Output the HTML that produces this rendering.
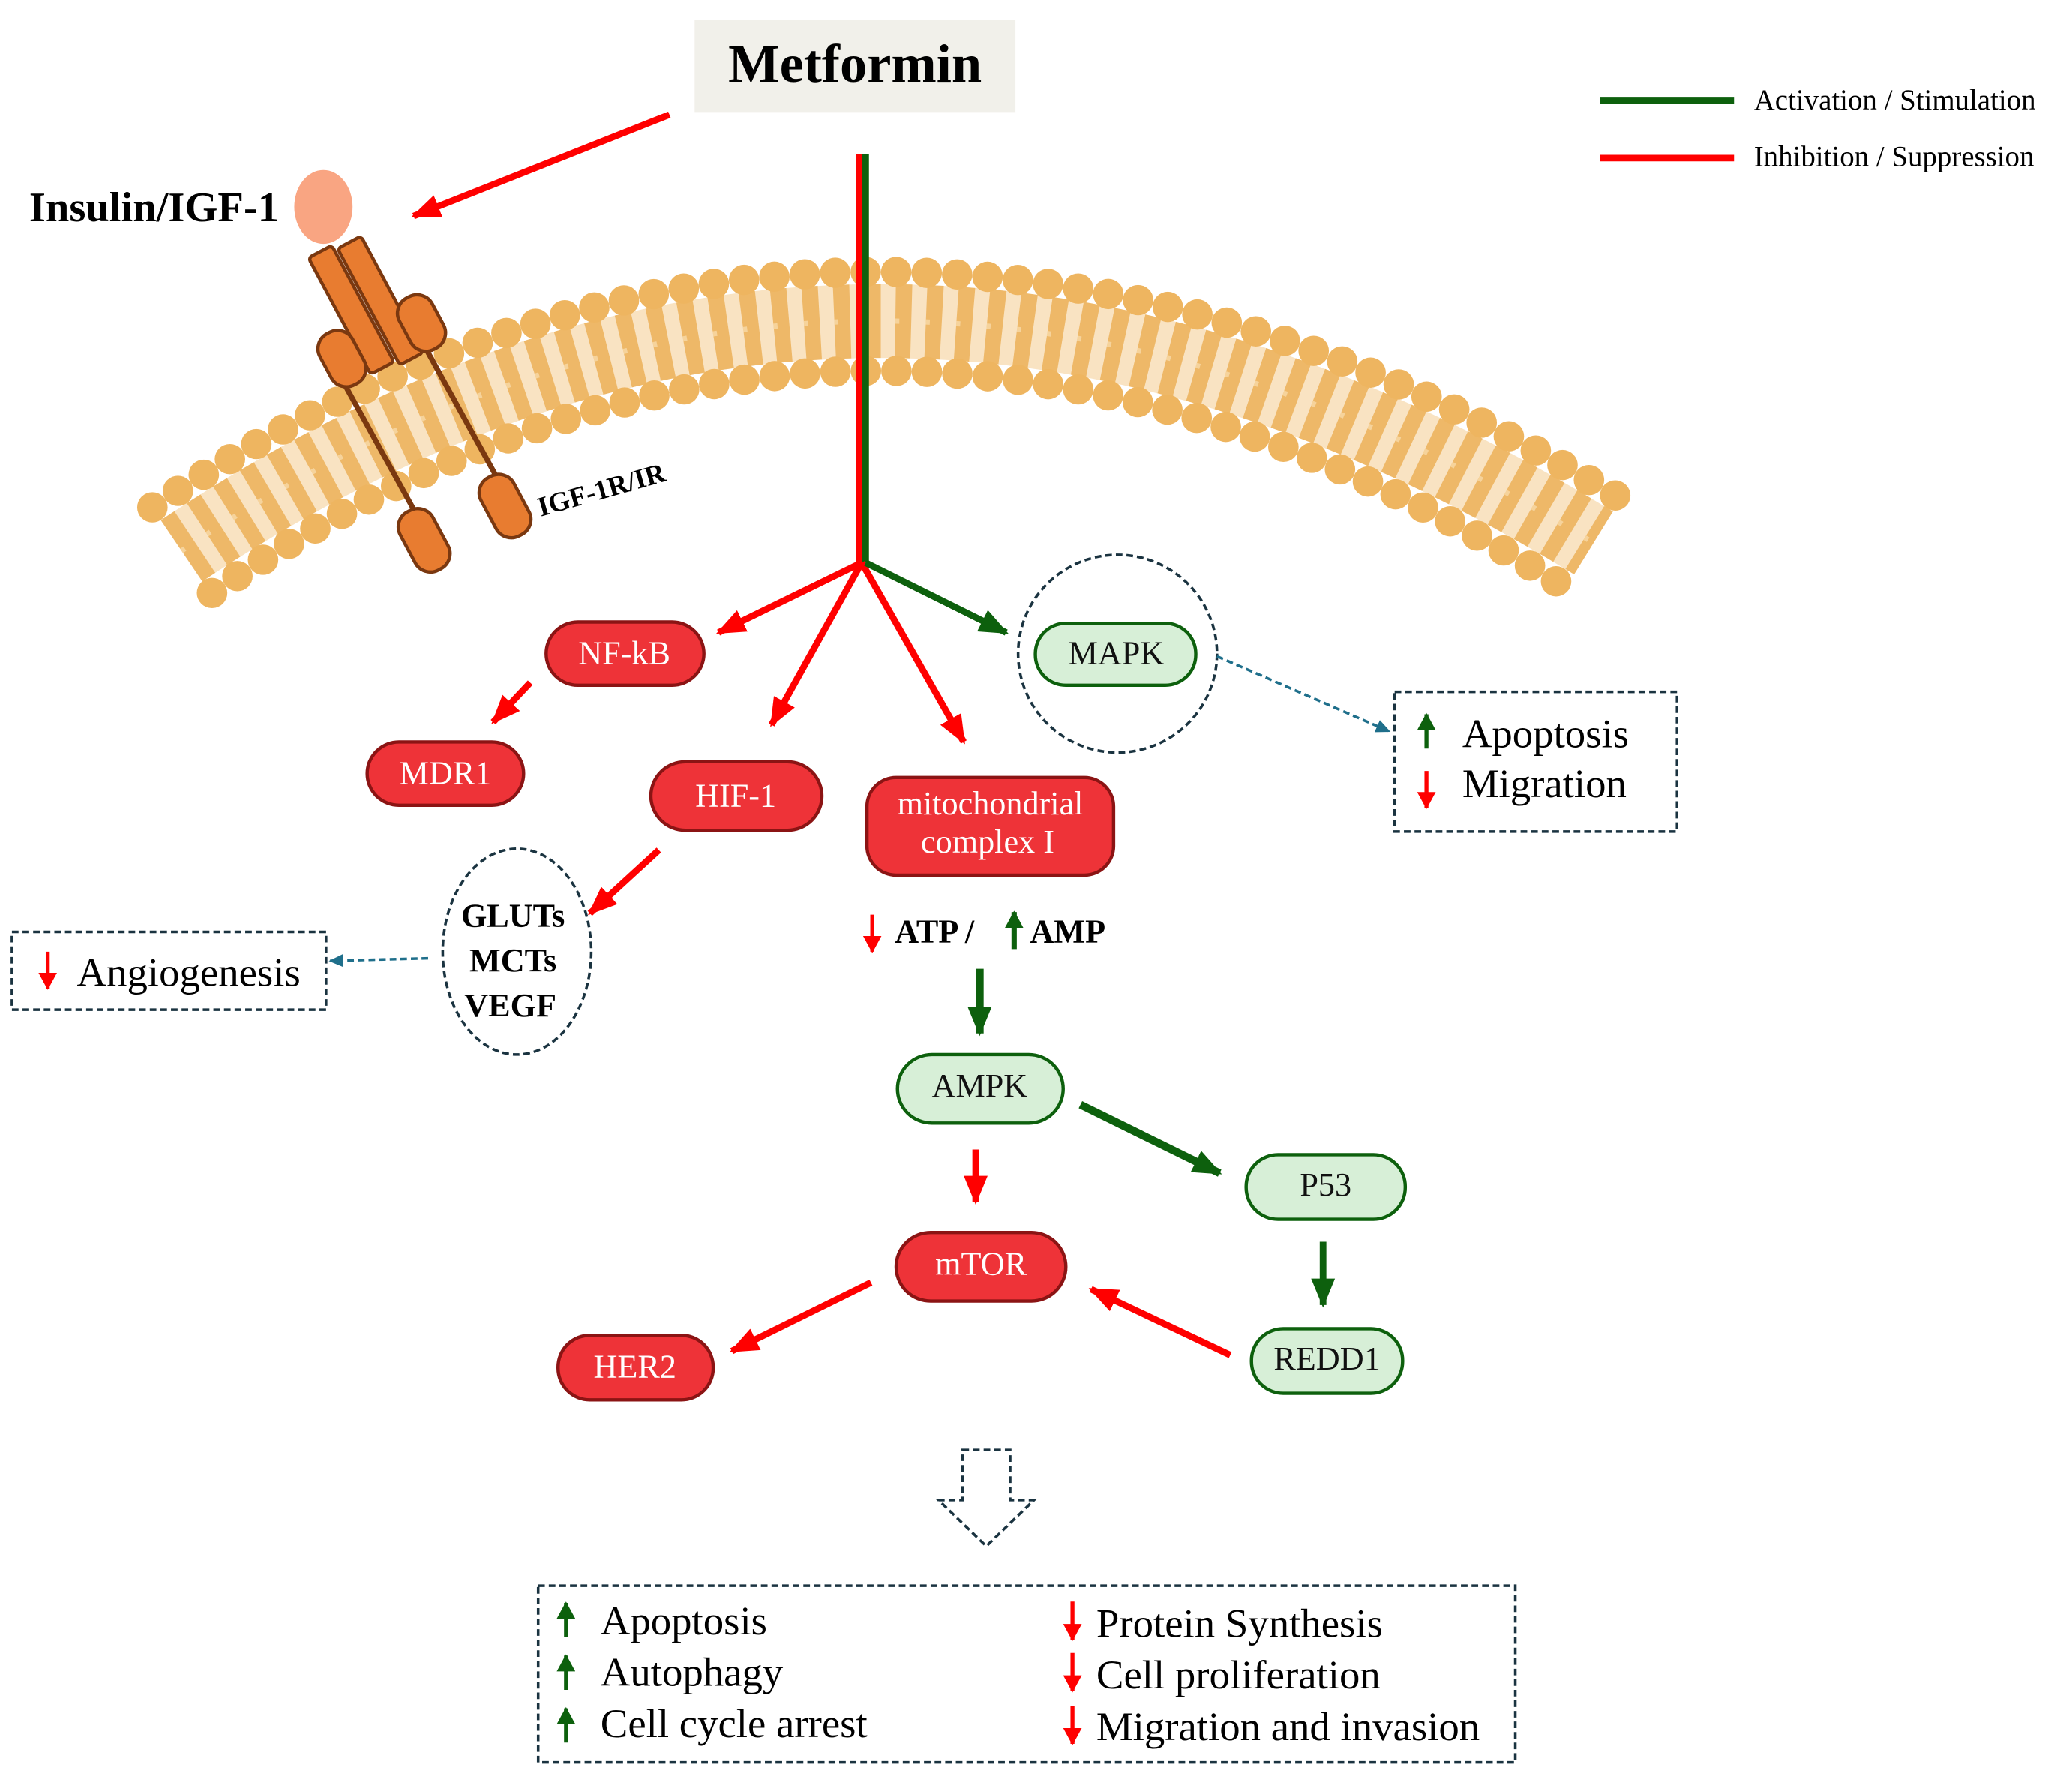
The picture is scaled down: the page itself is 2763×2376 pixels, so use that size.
<!DOCTYPE html>
<html><head><meta charset="utf-8"><style>html,body{margin:0;padding:0;background:#fff}svg{display:block}</style></head>
<body>
<svg width="2763" height="2376" viewBox="0 0 1563 1352" preserveAspectRatio="none" xmlns="http://www.w3.org/2000/svg" font-family="'Liberation Serif', serif">
<defs>
<marker id="mr" markerUnits="userSpaceOnUse" markerWidth="24" markerHeight="20" refX="20" refY="10" orient="auto"><path d="M0,1 L22,10 L0,19 Z" fill="#ff0000"/></marker>
<marker id="mg" markerUnits="userSpaceOnUse" markerWidth="24" markerHeight="20" refX="20" refY="10" orient="auto"><path d="M0,1 L22,10 L0,19 Z" fill="#0d600d"/></marker>
<marker id="mt" markerUnits="userSpaceOnUse" markerWidth="12" markerHeight="10" refX="10" refY="5" orient="auto"><path d="M0,0 L11,5 L0,10 Z" fill="#1f6f8b"/></marker>
<marker id="sr" markerUnits="userSpaceOnUse" markerWidth="14" markerHeight="14" refX="12" refY="7" orient="auto"><path d="M0,0 L13,7 L0,14 Z" fill="#ff0000"/></marker>
<marker id="sg" markerUnits="userSpaceOnUse" markerWidth="14" markerHeight="14" refX="12" refY="7" orient="auto"><path d="M0,0 L13,7 L0,14 Z" fill="#0d600d"/></marker>
</defs>

<!-- membrane -->
<path d="M137,418 Q650,72 1202,412" fill="none" stroke="#f5d09a" stroke-width="56" opacity="0.6"/>
<path d="M137,418 Q650,72 1202,412" fill="none" stroke="#eeb868" stroke-width="56" stroke-dasharray="12 11"/>
<path d="M137,418 Q650,72 1202,412" fill="none" stroke="#f7d9a8" stroke-width="4" stroke-dasharray="3 20" opacity="0.8"/>
<path d="M115,385 Q650,30 1225,380" fill="none" stroke="#eeb560" stroke-width="23" stroke-linecap="round" stroke-dasharray="0 23"/>
<path d="M160,450 Q650,115 1180,445" fill="none" stroke="#eeb560" stroke-width="23" stroke-linecap="round" stroke-dasharray="0 23"/>

<!-- Metformin -->
<rect x="524" y="15" width="242" height="70" fill="#f1f0ea"/>
<text x="645" y="62" font-size="41" font-weight="bold" text-anchor="middle">Metformin</text>

<!-- legend -->
<line x1="1207" y1="76" x2="1308" y2="76" stroke="#0d600d" stroke-width="5"/>
<text x="1323" y="83" font-size="22">Activation / Stimulation</text>
<line x1="1207" y1="120" x2="1308" y2="120" stroke="#ff0000" stroke-width="5"/>
<text x="1323" y="126" font-size="22">Inhibition / Suppression</text>

<!-- insulin -->
<line x1="505" y1="87" x2="312" y2="164" stroke="#ff0000" stroke-width="5" marker-end="url(#mr)"/>
<text x="22" y="168" font-size="32" font-weight="bold">Insulin/IGF-1</text>
<ellipse cx="244" cy="157" rx="22" ry="28" fill="#f9a582"/>

<!-- receptor -->
<g stroke="#7a3810" stroke-width="2.5" fill="#e87c30">
<line x1="258" y1="288" x2="314" y2="390" stroke="#7a3810" stroke-width="4"/>
<line x1="320" y1="262" x2="378" y2="368" stroke="#7a3810" stroke-width="4"/>
<rect x="-10" y="-50" width="20" height="100" rx="3" transform="translate(265,235) rotate(-28)"/>
<rect x="-10" y="-50" width="20" height="100" rx="3" transform="translate(287,228) rotate(-28)"/>
<rect x="-14" y="-22" width="28" height="44" rx="13" transform="translate(258,272) rotate(-28)"/>
<rect x="-14" y="-22" width="28" height="44" rx="13" transform="translate(318,245) rotate(-28)"/>
<rect x="-14" y="-25" width="28" height="50" rx="13" transform="translate(320,410) rotate(-28)"/>
<rect x="-14" y="-25" width="28" height="50" rx="13" transform="translate(381,384) rotate(-28)"/>
</g>
<text x="408" y="392" font-size="21" font-weight="bold" transform="rotate(-16 408 392)">IGF-1R/IR</text>

<!-- central line -->
<line x1="648" y1="117" x2="648" y2="427" stroke="#ff0000" stroke-width="5"/>
<line x1="653" y1="117" x2="653" y2="427" stroke="#0d600d" stroke-width="5"/>

<g stroke-width="5" fill="none">
<line x1="650" y1="427" x2="542" y2="480" stroke="#ff0000" marker-end="url(#mr)"/>
<line x1="650" y1="427" x2="582" y2="550" stroke="#ff0000" marker-end="url(#mr)"/>
<line x1="650" y1="427" x2="727" y2="563" stroke="#ff0000" marker-end="url(#mr)"/>
<line x1="653" y1="427" x2="759" y2="480" stroke="#0d600d" marker-end="url(#mg)"/>
<line x1="400" y1="518" x2="372" y2="548" stroke="#ff0000" marker-end="url(#mr)"/>
<line x1="497" y1="645" x2="445" y2="693" stroke="#ff0000" marker-end="url(#mr)"/>
<line x1="739" y1="735" x2="739" y2="784" stroke="#0d600d" stroke-width="6" marker-end="url(#mg)"/>
<line x1="736" y1="872" x2="736" y2="912" stroke="#ff0000" marker-end="url(#mr)"/>
<line x1="815" y1="838" x2="920" y2="890" stroke="#0d600d" stroke-width="6" marker-end="url(#mg)"/>
<line x1="998" y1="942" x2="998" y2="990" stroke="#0d600d" marker-end="url(#mg)"/>
<line x1="928" y1="1028" x2="823" y2="978" stroke="#ff0000" marker-end="url(#mr)"/>
<line x1="657" y1="973" x2="552" y2="1025" stroke="#ff0000" marker-end="url(#mr)"/>
</g>

<!-- red nodes -->
<g fill="#ee3338" stroke="#8b1414" stroke-width="2.5">
<rect x="412" y="472" width="119" height="48" rx="24"/>
<rect x="277" y="563" width="118" height="48" rx="24"/>
<rect x="491" y="578" width="129" height="52" rx="26"/>
<rect x="654" y="590" width="186" height="74" rx="22"/>
<rect x="676" y="935" width="128" height="52" rx="26"/>
<rect x="421" y="1013" width="117" height="49" rx="24"/>
</g>
<g fill="#fff" font-size="25" text-anchor="middle">
<text x="471" y="504">NF-kB</text>
<text x="336" y="595">MDR1</text>
<text x="555" y="612">HIF-1</text>
<text x="747" y="618">mitochondrial</text>
<text x="745" y="647">complex I</text>
<text x="740" y="967">mTOR</text>
<text x="479" y="1045">HER2</text>
</g>

<!-- green nodes -->
<g fill="#d7efd7" stroke="#0d600d" stroke-width="2.5">
<rect x="781" y="473" width="121" height="47" rx="23"/>
<rect x="677" y="800" width="125" height="52" rx="26"/>
<rect x="940" y="876" width="120" height="49" rx="24"/>
<rect x="944" y="1008" width="114" height="49" rx="24"/>
</g>
<g fill="#111" font-size="25" text-anchor="middle">
<text x="842" y="504">MAPK</text>
<text x="739" y="832">AMPK</text>
<text x="1000" y="907">P53</text>
<text x="1001" y="1039">REDD1</text>
</g>

<!-- dashed circles -->
<ellipse cx="843" cy="496" rx="75" ry="75" fill="none" stroke="#1a3340" stroke-width="2" stroke-dasharray="5 3"/>
<ellipse cx="390" cy="722" rx="56" ry="78" fill="none" stroke="#1a3340" stroke-width="2" stroke-dasharray="5 3"/>
<g font-size="25" font-weight="bold" text-anchor="middle">
<text x="387" y="703">GLUTs</text>
<text x="387" y="737">MCTs</text>
<text x="385" y="771">VEGF</text>
</g>

<!-- teal dashed connectors -->
<line x1="918" y1="498" x2="1048" y2="555" stroke="#1f6f8b" stroke-width="2" stroke-dasharray="5 3" marker-end="url(#mt)"/>
<line x1="323" y1="727" x2="249" y2="729" stroke="#1f6f8b" stroke-width="2" stroke-dasharray="5 3" marker-end="url(#mt)"/>

<!-- apoptosis box -->
<rect x="1052" y="525" width="213" height="106" fill="none" stroke="#1a3340" stroke-width="2" stroke-dasharray="5 3"/>
<line x1="1076" y1="568" x2="1076" y2="542" stroke="#0d600d" stroke-width="3" marker-end="url(#sg)"/>
<line x1="1076" y1="585" x2="1076" y2="613" stroke="#ff0000" stroke-width="3" marker-end="url(#sr)"/>
<text x="1103" y="567" font-size="31">Apoptosis</text>
<text x="1103" y="605" font-size="31">Migration</text>

<!-- angiogenesis box -->
<rect x="9" y="707" width="237" height="59" fill="none" stroke="#1a3340" stroke-width="2" stroke-dasharray="5 3"/>
<line x1="36" y1="722" x2="36" y2="750" stroke="#ff0000" stroke-width="3" marker-end="url(#sr)"/>
<text x="58" y="748" font-size="31">Angiogenesis</text>

<!-- ATP/AMP -->
<line x1="658" y1="694" x2="658" y2="722" stroke="#ff0000" stroke-width="3" marker-end="url(#sr)"/>
<text x="675" y="715" font-size="25" font-weight="bold">ATP /</text>
<line x1="765" y1="720" x2="765" y2="692" stroke="#0d600d" stroke-width="4" marker-end="url(#sg)"/>
<text x="777" y="715" font-size="25" font-weight="bold">AMP</text>

<!-- hollow arrow -->
<path d="M726,1100 L762,1100 L762,1138 L780,1138 L744,1173 L708,1138 L726,1138 Z" fill="#fff" stroke="#1a3340" stroke-width="2" stroke-dasharray="5 3"/>

<!-- bottom box -->
<rect x="406" y="1203" width="737" height="134" fill="none" stroke="#1a3340" stroke-width="2" stroke-dasharray="5 3"/>
<g stroke-width="3">
<line x1="427" y1="1242" x2="427" y2="1216" stroke="#0d600d" marker-end="url(#sg)"/>
<line x1="427" y1="1282" x2="427" y2="1256" stroke="#0d600d" marker-end="url(#sg)"/>
<line x1="427" y1="1322" x2="427" y2="1296" stroke="#0d600d" marker-end="url(#sg)"/>
<line x1="809" y1="1215" x2="809" y2="1244" stroke="#ff0000" marker-end="url(#sr)"/>
<line x1="809" y1="1254" x2="809" y2="1283" stroke="#ff0000" marker-end="url(#sr)"/>
<line x1="809" y1="1294" x2="809" y2="1323" stroke="#ff0000" marker-end="url(#sr)"/>
</g>
<g font-size="31">
<text x="453" y="1240">Apoptosis</text>
<text x="453" y="1279">Autophagy</text>
<text x="453" y="1318">Cell cycle arrest</text>
<text x="827" y="1242">Protein Synthesis</text>
<text x="827" y="1281">Cell proliferation</text>
<text x="827" y="1320">Migration and invasion</text>
</g>
</svg>
</body></html>
